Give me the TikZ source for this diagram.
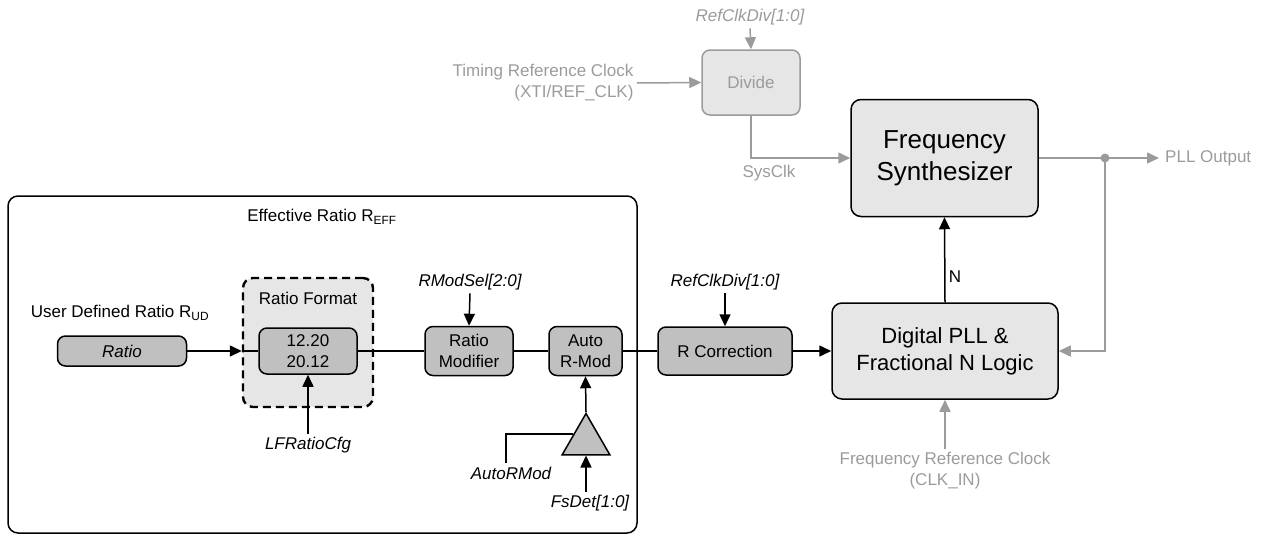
\documentclass[tikz,border=0pt]{standalone}
\usepackage{fontspec}
\setmainfont{Liberation Sans}
\usetikzlibrary{arrows.meta,shapes.geometric,calc}
\definecolor{sigGray}{HTML}{9B9B9B}
\definecolor{boxDark}{HTML}{C0C0C0}
\definecolor{boxLight}{HTML}{E6E6E6}

\begin{document}
\begin{tikzpicture}[x=1pt, y=-1pt, >={Triangle[length=12pt,width=11pt]},
    font=\fontsize{17}{21}\selectfont,
    blk/.style = {draw, rounded corners=8pt, fill=boxDark, line width=1.5pt, align=center, inner sep=0},
    big/.style = {draw, rounded corners=10pt, fill=boxLight, line width=1.5pt, align=center, inner sep=0},
    sig/.style = {line width=1.5pt},
    lbl/.style = {font=\fontsize{17}{21}\selectfont\itshape},
    gry/.style = {text=sigGray}]
    \useasboundingbox (0,0) rectangle (1269,536);

    \node[draw, rounded corners=10pt, line width=1.5pt, minimum width=629pt, minimum height=337pt] (eff) at (322.5,364.5) {};
    \node (efftitle) at (322,217) {Effective Ratio R\textsubscript{EFF}};
    \node (udr)      at (120,313) {User Defined Ratio R\textsubscript{UD}};

    \node[blk, minimum width=129pt, minimum height=30pt, font=\fontsize{17}{21}\selectfont\itshape] (ratio) at (122,351) {Ratio};
    \node[draw, dash pattern=on 8pt off 5pt, line width=2.4pt, fill=boxLight, rounded corners=10pt,
          minimum width=130pt, minimum height=129pt] (fmt) at (308,342.5) {};
    \node                                               (fmttitle) at (308,298)   {Ratio Format};
    \node[blk, minimum width=98pt,  minimum height=46pt] (conv)    at (308,351)   {12.20\\20.12};
    \node[blk, minimum width=88pt,  minimum height=49pt] (rmod)    at (469,351)   {Ratio\\Modifier};
    \node[blk, minimum width=73pt,  minimum height=49pt] (armod)   at (585.5,351) {Auto\\R-Mod};
    \node[blk, minimum width=134pt, minimum height=48pt] (rcorr)   at (725,351)   {R Correction};
    \node[regular polygon, regular polygon sides=3, draw, fill=boxDark, line width=1.5pt,
          minimum size=55pt, inner sep=0] (buf) at (586,441) {};

    \node[big, minimum width=226pt, minimum height=96pt, font=\fontsize{22}{27}\selectfont]  (dpll)   at (945,351)   {Digital PLL \&\\Fractional N Logic};
    \node[big, minimum width=187pt, minimum height=117pt, font=\fontsize{26}{32}\selectfont] (fs)     at (944.5,158) {Frequency\\Synthesizer};
    \node[big, draw=sigGray, gry, rounded corners=8pt, minimum width=98pt, minimum height=65pt] (divide) at (751,82.5) {Divide};

    \node[lbl]      (lfcfg)   at (308,445) {LFRatioCfg};
    \node[lbl]      (rmodsel) at (470,282) {RModSel[2:0]};
    \node[lbl]      (rcsel)   at (725,282) {RefClkDiv[1:0]};
    \node[lbl]      (autoin)  at (511,473) {AutoRMod};
    \node[lbl]      (fsdet)   at (590,503) {FsDet[1:0]};
    \node[lbl, gry] (divsel)  at (750,17)  {RefClkDiv[1:0]};
    \node[gry, align=right, anchor=east]  (tref)   at (637,83)  {Timing Reference Clock\\(XTI/REF\_CLK)};
    \node[gry]                            (sysclk) at (769,173) {SysClk};
    \node[gry, anchor=west, inner sep=6pt] (pllout) at (1159,158) {PLL Output};
    \node[gry, align=center]              (frc)    at (945,471) {Frequency Reference Clock\\(CLK\_IN)};
    \coordinate (tap) at (1105,158);

    \draw[->, sig] (ratio.east) -- (ratio -| fmt.west);
    \draw[sig]     (ratio -| fmt.west) -- (conv.west);
    \draw[sig]     (conv.east) -- (rmod.west);
    \draw[sig]     (rmod.east) -- (armod.west);
    \draw[sig]     (armod.east) -- (rcorr.west);
    \draw[->, sig] (rcorr.east) -- (dpll.west);

    \draw[->, sig] (lfcfg.north) -- (conv.south);
    \draw[->, sig] (rmodsel.south) -- (rmod.north);
    \draw[->, sig] (rcsel.south) -- (rcorr.north);
    \draw[->, sig] (buf.corner 1) -- (armod.south);
    \draw[sig]     ($(buf.corner 1)!0.5!(buf.corner 2)$) -| ([xshift=-5pt]autoin.north);
    \draw[->, sig] (fsdet.north -| buf.side 2) -- (buf.side 2);
    \draw[->, sig] (dpll.north) -- (fs.south) node[pos=0.3, right] {N};

    \draw[->, sig, sigGray] (divsel.south) -- (divide.north);
    \draw[->, sig, sigGray] (tref.east) -- (divide.west);
    \draw[->, sig, sigGray] (divide.south) |- (fs.west);
    \draw[sig, sigGray]     (fs.east) -- (tap);
    \draw[->, sig, sigGray] (tap) -- (pllout.west);
    \draw[->, sig, sigGray] (tap) |- (dpll.east);
    \draw[->, sig, sigGray] (frc.north) -- (dpll.south);
    \fill[sigGray] (tap) circle (4.5pt);
\end{tikzpicture}
\end{document}
